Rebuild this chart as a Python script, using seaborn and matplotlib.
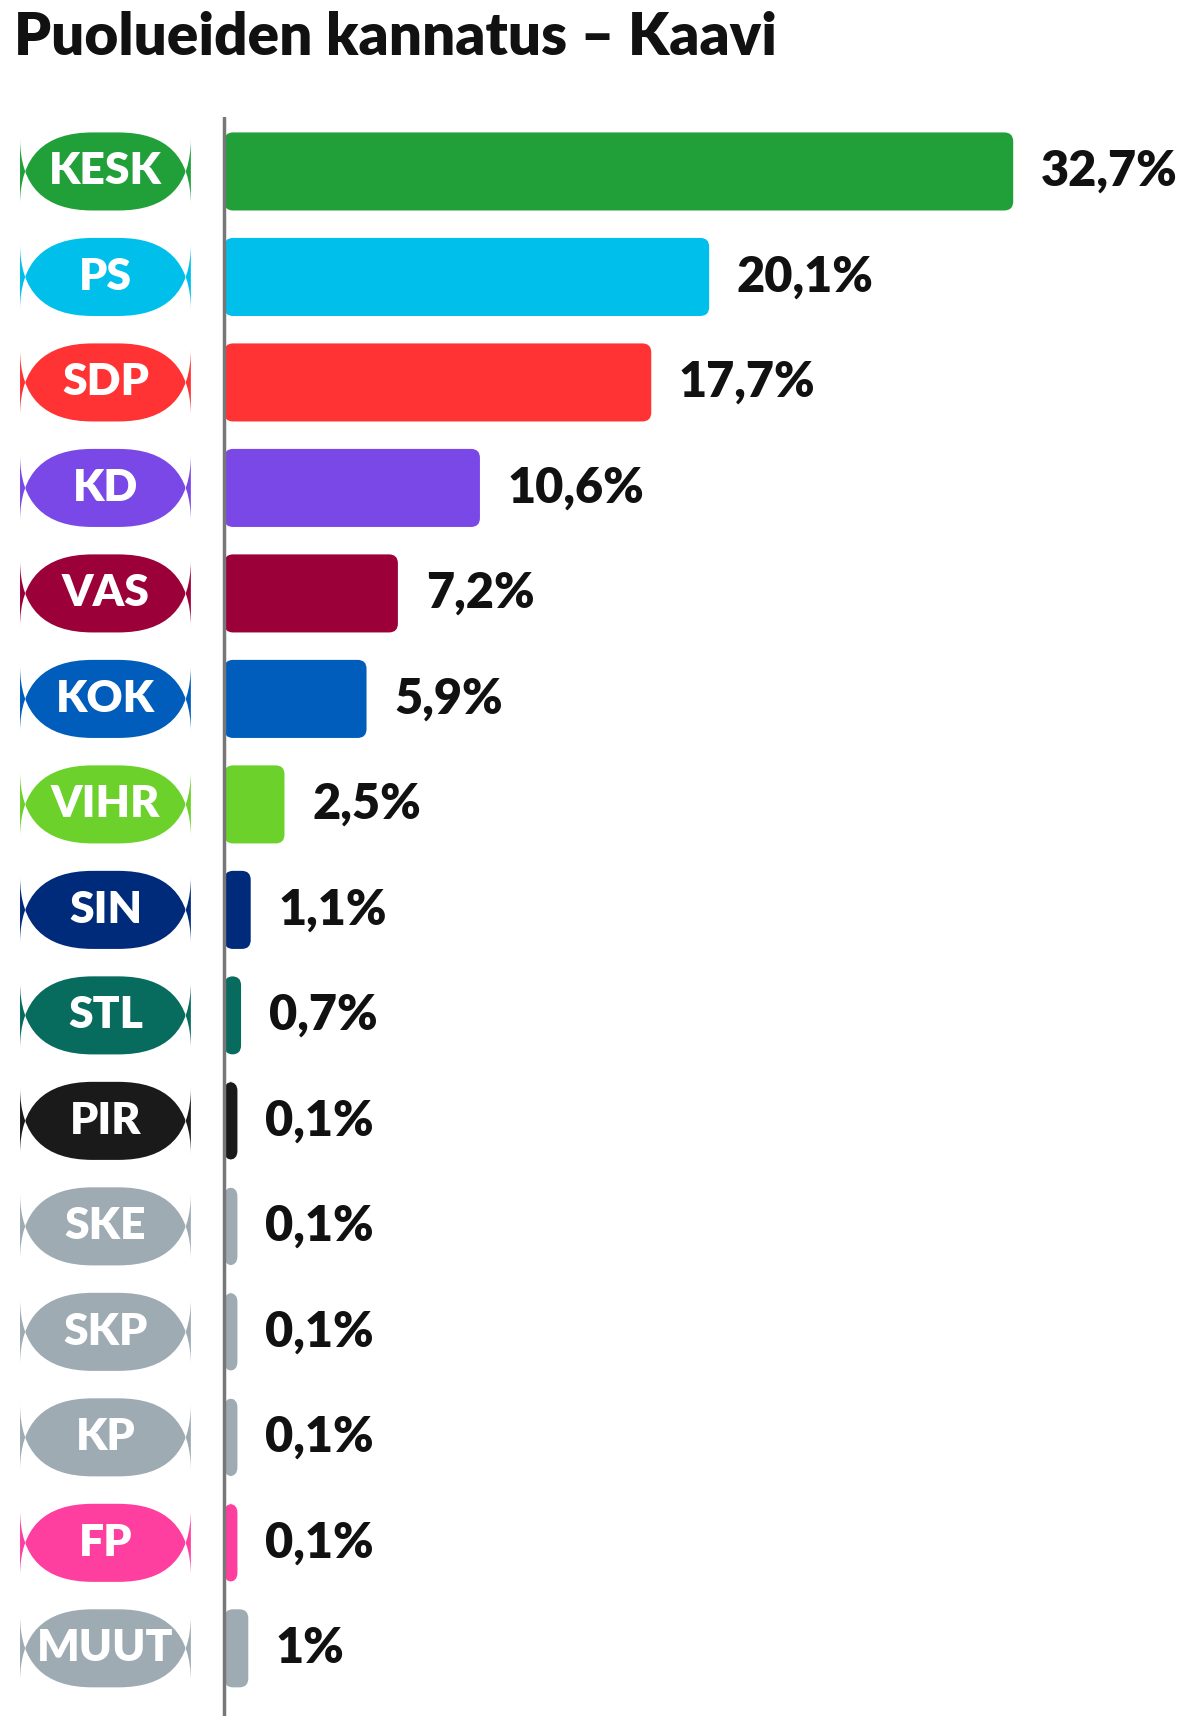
import matplotlib
matplotlib.use('Agg')
import matplotlib.pyplot as plt
import seaborn as sns
import pandas as pd
from matplotlib.patches import FancyBboxPatch

parties = ["KESK", "PS", "SDP", "KD", "VAS", "KOK", "VIHR", "SIN", "STL",
           "PIR", "SKE", "SKP", "KP", "FP", "MUUT"]
values = [32.7, 20.1, 17.7, 10.6, 7.2, 5.9, 2.5, 1.1, 0.7,
          0.1, 0.1, 0.1, 0.1, 0.1, 1.0]
labels = ["32,7%", "20,1%", "17,7%", "10,6%", "7,2%", "5,9%", "2,5%", "1,1%", "0,7%",
          "0,1%", "0,1%", "0,1%", "0,1%", "0,1%", "1%"]
colors = ["#21a03a", "#00c0eb", "#ff3333", "#7a48e6", "#9c0038", "#005dbb", "#6cd22b",
          "#002a7a", "#076b5e", "#1a1a1a", "#9eabb3", "#9eabb3", "#9eabb3", "#ff3fa0", "#9eabb3"]

df = pd.DataFrame({"party": parties, "value": values})

sns.set_theme(style="white", rc={"font.family": "Lato"})
fig = plt.figure(figsize=(11.99, 17.21), dpi=100)
ax = fig.add_axes([0, 0.003, 1, 0.929])

sns.barplot(data=df, y="party", x="value", hue="party", palette=colors,
            orient="h", width=0.74, legend=False, ax=ax)

ax.set_xlim(-9.29, 40.4)
ax.set_ylim(14.64, -0.516)
aspect = 21.74 / 95.0
min_w = 0.55

for i, p in enumerate(list(ax.patches)):
    y0, h = p.get_y(), p.get_height()
    w = max(p.get_width(), min_w)
    p.set_visible(False)
    ax.add_patch(FancyBboxPatch((0, y0), w, h,
                                boxstyle="round,pad=0,rounding_size=0.37",
                                mutation_aspect=aspect, fc=colors[i], ec="none"))

for i, (name, v, lab) in enumerate(zip(parties, values, labels)):
    ax.add_patch(FancyBboxPatch((-8.46, i - 0.37), 7.08, 0.74,
                                boxstyle="round,pad=0,rounding_size=3.0",
                                mutation_aspect=aspect, fc=colors[i], ec="none"))
    ax.text(-4.92, i, name, ha="center", va="center", color="white",
            fontsize=32, fontweight="heavy")
    ax.text(max(v, min_w) + 1.15, i, lab, ha="left", va="center", color="#111111",
            fontsize=35, fontweight="heavy")

ax.axvline(0, color="#777777", lw=2.5)
ax.axis("off")

fig.text(0.012, 0.978, "Puolueiden kannatus – Kaavi", ha="left", va="center",
         fontsize=42, fontweight="heavy", color="#111111")

fig.savefig("out.png", dpi=100)
